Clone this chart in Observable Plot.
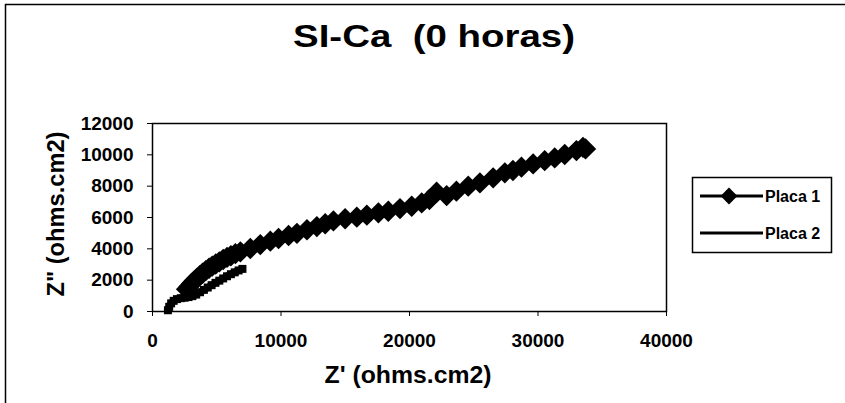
<!DOCTYPE html>
<html><head><meta charset="utf-8">
<script src="https://cdn.jsdelivr.net/npm/d3@7"></script>
<script src="https://cdn.jsdelivr.net/npm/@observablehq/plot@0.6"></script>
<style>
html,body{margin:0;padding:0;background:#fff;}
#chart svg{display:block;}
</style></head><body><div id="chart"></div>
<script>
const title = "SI-Ca  (0 horas)";
const xLabel = "Z' (ohms.cm2)";
const yLabel = 'Z" (ohms.cm2)';
const seriesNames = ["Placa 1", "Placa 2"];
const xTicks = [0, 10000, 20000, 30000, 40000];
const yTicks = [0, 2000, 4000, 6000, 8000, 10000, 12000];

const placa1X = [2650, 2850, 3050, 3250, 3450, 3680, 3900, 4150, 4400, 4650, 4920, 5200, 5500, 5800, 6100, 6450, 6840, 7610, 8390, 9170, 9810, 10590, 11240, 12020, 12790, 13440, 14080, 14990, 15900, 16680, 17580, 18350, 19260, 20170, 20950, 21550, 22110, 22890, 23650, 24570, 25480, 26510, 27420, 28050, 28710, 29620, 30520, 31300, 32080, 32990, 33500, 33700];
const placa1Y = [1420, 1600, 1790, 1960, 2120, 2290, 2440, 2610, 2760, 2900, 3030, 3170, 3320, 3450, 3560, 3690, 3810, 4020, 4270, 4490, 4660, 4850, 4990, 5220, 5420, 5600, 5780, 5920, 6020, 6150, 6300, 6400, 6570, 6720, 6930, 7150, 7610, 7400, 7680, 8000, 8210, 8530, 8850, 9000, 9210, 9420, 9630, 9800, 10020, 10270, 10480, 10380];

const placa2X = [1200, 1300, 1450, 1650, 1900, 2200, 2500, 2800, 3100, 3400, 3700, 4000, 4300, 4600, 4900, 5200, 5500, 5800, 6100, 6400, 6700, 7000];
const placa2Y = [80, 300, 520, 680, 790, 850, 880, 920, 980, 1080, 1230, 1380, 1530, 1680, 1830, 1970, 2110, 2250, 2380, 2500, 2620, 2720];

const p1 = placa1X.map((x, i) => ({x, y: placa1Y[i], s: seriesNames[0]}));
const p2 = placa2X.map((x, i) => ({x, y: placa2Y[i], s: seriesNames[1]}));

const FONT = "'Liberation Sans', Arial, Helvetica, sans-serif";

const chart = Plot.plot({
  width: 845, height: 403,
  marginLeft: 152, marginRight: 179, marginTop: 123, marginBottom: 92,
  style: {fontFamily: FONT, fontWeight: "bold", fontSize: "19px", color: "black", background: "white"},
  x: {domain: [0, 40000], ticks: xTicks, tickFormat: d => String(d), tickSize: 5, tickPadding: 17, label: null},
  y: {domain: [0, 12000], ticks: yTicks, tickFormat: d => String(d), tickSize: 5, tickPadding: 14, label: null},
  marks: [
    Plot.frame({stroke: "black", strokeWidth: 1.5}),
    Plot.line(p2, {x: "x", y: "y", stroke: "black", strokeWidth: 7, curve: "catmull-rom"}),
    Plot.dot(p2, {x: "x", y: "y", symbol: "square", r: 4.5, fill: "black"}),
    Plot.line(p1, {x: "x", y: "y", stroke: "black", strokeWidth: 3}),
    Plot.dot(p1, {x: "x", y: "y", symbol: "diamond2", r: 9.6, fill: "black"})
  ]
});

const svg = d3.select(chart);
svg.insert("rect", ":first-child")
  .attr("x", 5.5).attr("y", 4.5).attr("width", 900).attr("height", 500)
  .attr("fill", "none").attr("stroke", "black").attr("stroke-width", 1.5);

function addText(str, x, y, size, len, rotate) {
  const t = svg.append("text")
    .attr("text-anchor", "middle")
    .attr("font-family", FONT).attr("font-weight", "bold")
    .attr("font-size", size).attr("fill", "black")
    .style("white-space", "pre")
    .attr("textLength", len).attr("lengthAdjust", "spacingAndGlyphs")
    .text(str);
  if (rotate) t.attr("transform", `translate(${x},${y}) rotate(-90)`);
  else t.attr("x", x).attr("y", y);
  return t;
}
addText(title, 434, 47, 32, 282, false);
addText(xLabel, 408, 383, 24, 167, false);
addText(yLabel, 64, 214, 24, 165, true);

// Legend
const lg = svg.append("g");
lg.append("rect").attr("x", 692.5).attr("y", 177.5).attr("width", 139).attr("height", 75)
  .attr("fill", "white").attr("stroke", "black").attr("stroke-width", 1.5);
const rows = [196, 233];
lg.append("line").attr("x1", 700).attr("x2", 763).attr("y1", rows[0]).attr("y2", rows[0])
  .attr("stroke", "black").attr("stroke-width", 3);
lg.append("path").attr("d", d3.symbol(d3.symbolDiamond2, Math.PI * 7.6 * 7.6)())
  .attr("transform", `translate(729,${rows[0]})`).attr("fill", "black");
lg.append("line").attr("x1", 700).attr("x2", 763).attr("y1", rows[1]).attr("y2", rows[1])
  .attr("stroke", "black").attr("stroke-width", 3);
seriesNames.forEach((n, i) => {
  lg.append("text").attr("x", 765).attr("y", rows[i]).attr("dy", "0.35em")
    .attr("text-anchor", "start")
    .attr("font-family", FONT).attr("font-weight", "bold").attr("font-size", 16)
    .attr("fill", "black").text(n);
});

document.getElementById("chart").appendChild(chart);
</script></body></html>
